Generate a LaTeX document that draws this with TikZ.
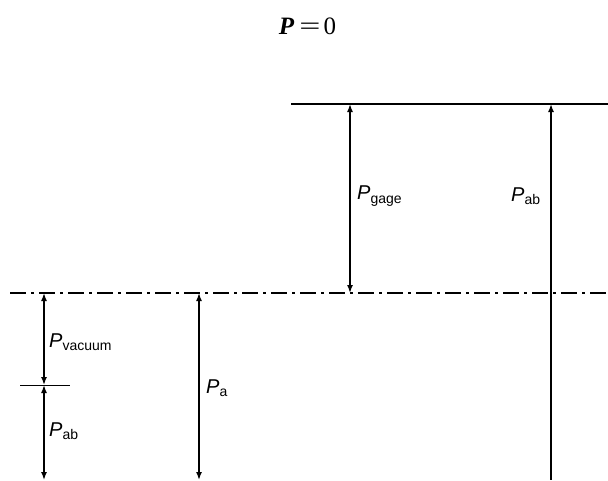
\documentclass[tikz,border=0pt]{standalone}
\usepackage{graphicx}
\usepackage{fontspec}
\setmainfont{Liberation Serif}
\newfontfamily\labfont{Liberation Sans}
\usetikzlibrary{arrows.meta}
\tikzset{
  dim/.style={line width=1.5pt,{Latex[length=8pt,width=6pt]}-{Latex[length=8pt,width=6pt]}},
  dimup/.style={line width=1.5pt,{Latex[length=8pt,width=6pt]}-},
  lab/.style={font=\labfont\fontsize{20}{22}\selectfont,inner sep=0pt,anchor=west},
  dashdot/.style={line width=1.7pt,dash pattern=on 16pt off 5pt on 3pt off 5pt}
}
\newcommand{\plab}[1]{\textit{P}\raisebox{-0.3ex}{\fontsize{14}{16}\selectfont #1}}
\begin{document}
\begin{tikzpicture}[x=1pt,y=-1pt]
\useasboundingbox (0,0) rectangle (608,480);
% reference levels
\coordinate (topL) at (291,104);
\coordinate (topR) at (608,104);
\coordinate (atmL) at (10,293);
\coordinate (atmR) at (608,293);
\coordinate (vacL) at (20,385);
\coordinate (vacR) at (70,385);
\draw[line width=1.7pt] (topL) -- (topR);
\draw[dashdot] (atmL) -- (atmR);
\draw[line width=0.9pt] (vacL) -- (vacR);
% arrow end points
\coordinate (g1) at (350,104);
\coordinate (g2) at (350,293);
\coordinate (r1) at (551,104);
\coordinate (r2) at (551,480);
\coordinate (v1) at (44,293);
\coordinate (v2) at (44,385);
\coordinate (b1) at (44,385);
\coordinate (b2) at (44,480);
\coordinate (a1) at (199,293);
\coordinate (a2) at (199,480);
\draw[dim] (g1) -- (g2);
\draw[dimup] (r1) -- (r2);
\draw[dim] (v1) -- (v2);
\draw[dim] (b1) -- (b2);
\draw[dim] (a1) -- (a2);
% labels
\node[font=\fontsize{25}{27}\selectfont,inner sep=0pt] (p0) at (307.5,26) {\textbf{\textit{P}}\kern5pt\scalebox{1.5}[1]{=}\kern3pt0};
\node[lab] (lg) at (357,196) {\plab{gage}};
\node[lab] (lr) at (511,196) {\plab{ab}};
\node[lab] (lv) at (49,342) {\plab{vacuum}};
\node[lab] (lb) at (49,431) {\plab{ab}};
\node[lab] (la) at (206,388) {\plab{a}};
\end{tikzpicture}
\end{document}
